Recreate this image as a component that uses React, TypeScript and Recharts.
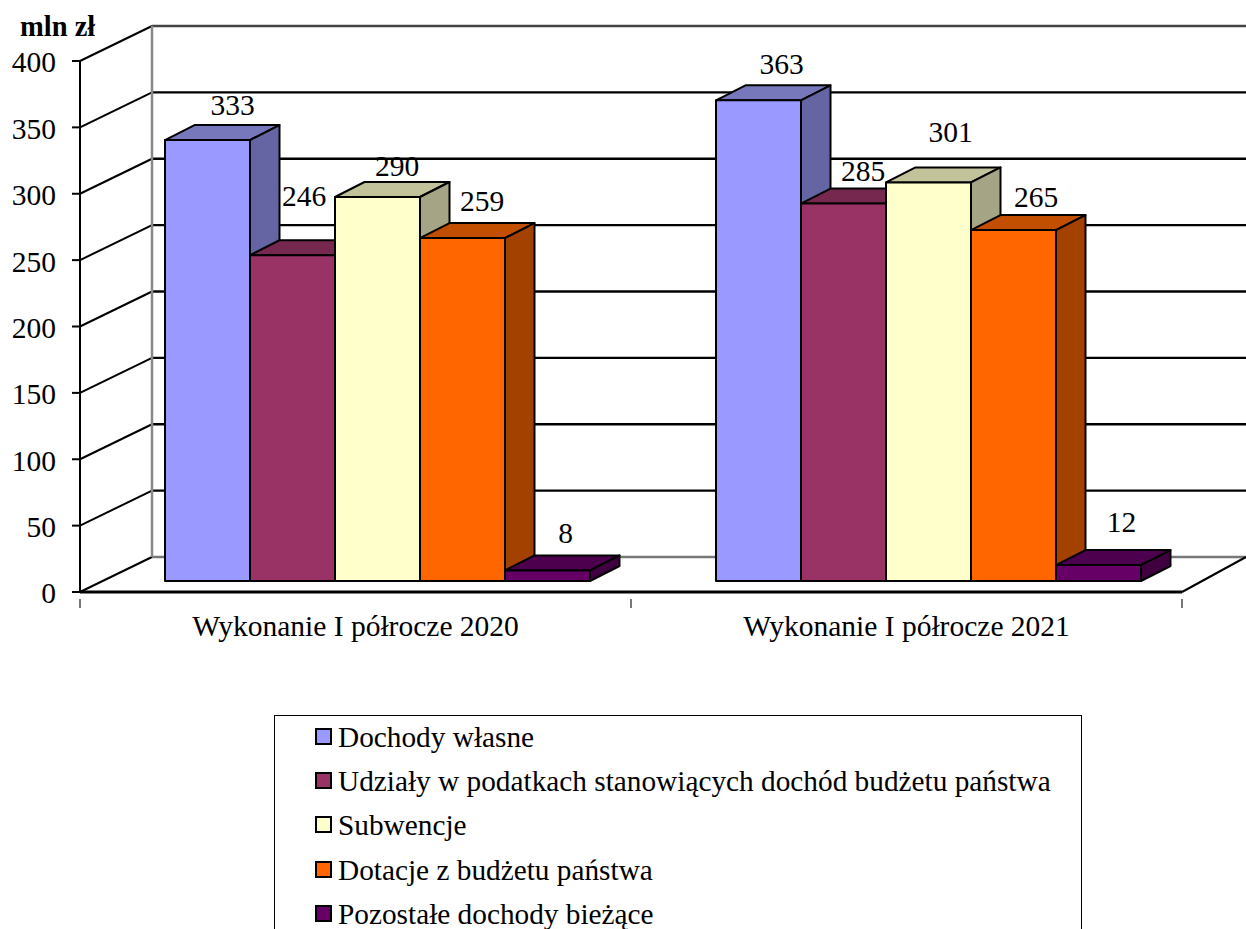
import React from 'react';
import { BarChart, Bar, XAxis, YAxis, CartesianGrid, Legend, LabelList } from 'recharts';

const categories = ['Wykonanie I półrocze 2020', 'Wykonanie I półrocze 2021'];
const dochodyWlasne = [333, 363];
const udzialy = [246, 285];
const subwencje = [290, 301];
const dotacje = [259, 265];
const pozostale = [8, 12];
const yTicks = [0, 50, 100, 150, 200, 250, 300, 350, 400];

const data = categories.map((name, i) => ({
  name,
  a: dochodyWlasne[i],
  b: udzialy[i],
  c: subwencje[i],
  d: dotacje[i],
  e: pozostale[i],
}));

const FONT = '"Liberation Serif", serif';
const FONT_SIZE = 29.5;
const DEPTH_X = 29.5;
const DEPTH_Y = 15;
const SHIFT_X = 22;
const SHIFT_Y = -11;
const WALL_X = 72;
const WALL_Y = 35;
const HALF_BAND = 275.5;

const series = [
  { key: 'a', name: 'Dochody własne', fill: '#9999FF', top: '#7777BB', side: '#6565A3', nudge: [[25, -35], [23, -36]] },
  { key: 'b', name: 'Udziały w podatkach stanowiących dochód budżetu państwa', fill: '#993366', top: '#77284F', side: '#662244', nudge: [[11.5, -59], [19.5, -33]] },
  { key: 'c', name: 'Subwencje', fill: '#FFFFCC', top: '#C2C29B', side: '#A5A585', nudge: [[19.5, -31], [22, -50]] },
  { key: 'd', name: 'Dotacje z budżetu państwa', fill: '#FF6600', top: '#C24E00', side: '#A34100', nudge: [[19.5, -37], [22.5, -33]] },
  { key: 'e', name: 'Pozostałe dochody bieżące', fill: '#660066', top: '#4D004D', side: '#400040', nudge: [[18, -37], [23, -43]] },
];

const Box3D = (p: any) => {
  const { x, y, width, height, fill, top, side } = p;
  const x0 = x + SHIFT_X;
  const x1 = x0 + width;
  const y0 = y + SHIFT_Y;
  const y1 = y0 + height;
  const line = { stroke: '#000', strokeWidth: 2, strokeLinejoin: 'round' as const };
  return (
    <g>
      <path d={`M${x0},${y0} L${x0 + DEPTH_X},${y0 - DEPTH_Y} L${x1 + DEPTH_X},${y0 - DEPTH_Y} L${x1},${y0} Z`} fill={top} {...line} />
      <path d={`M${x1},${y0} L${x1 + DEPTH_X},${y0 - DEPTH_Y} L${x1 + DEPTH_X},${y1 - DEPTH_Y} L${x1},${y1} Z`} fill={side} {...line} />
      <rect x={x0} y={y0} width={width} height={height} fill={fill} {...line} />
    </g>
  );
};

const gridRow = (rightEdge: number) => (p: any) => {
  const { x1, y1 } = p;
  const floor = y1 > 585;
  const topLine = y1 < 70;
  const backY = y1 - WALL_Y;
  const color = floor ? '#777' : topLine ? '#444' : '#000';
  return (
    <g key={`row-${y1}`}>
      <line x1={x1} y1={y1} x2={x1 + WALL_X} y2={backY} stroke="#000" strokeWidth={2} />
      <line x1={x1 + WALL_X} y1={backY} x2={rightEdge} y2={backY} stroke={color} strokeWidth={2.4} />
    </g>
  );
};

const CategoryTick = (p: any) => {
  const { x, y, payload } = p;
  return (
    <g>
      <line x1={x - HALF_BAND} y1={y - 1} x2={x - HALF_BAND} y2={y + 8} stroke="#777" strokeWidth={2} />
      <line x1={x + HALF_BAND} y1={y - 1} x2={x + HALF_BAND} y2={y + 8} stroke="#777" strokeWidth={2} />
      <text x={x} y={y + 26} textAnchor="middle" dominantBaseline="central" fontFamily={FONT} fontSize={FONT_SIZE} fill="#000">
        {payload.value}
      </text>
    </g>
  );
};

const LegendBox = ({ payload }: any) => (
  <div
    style={{
      position: 'relative',
      boxSizing: 'border-box',
      width: 808,
      height: 260,
      border: '1px solid #000',
      background: '#fff',
      fontFamily: FONT,
      fontSize: 29.3,
      color: '#000',
    }}
  >
    {(payload || []).map((item: any, i: number) => (
      <div key={item.value} style={{ position: 'absolute', left: 40, top: -1 + i * 44.2, height: 44, lineHeight: '44px', whiteSpace: 'nowrap' }}>
        <span
          style={{
            position: 'absolute',
            left: 0,
            top: 13,
            width: 13,
            height: 13,
            border: '2px solid #000',
            background: item.color,
          }}
        />
        <span style={{ position: 'absolute', left: 23, top: 0 }}>{item.value}</span>
      </div>
    ))}
  </div>
);

export default function App() {
  return (
    <div style={{ position: 'absolute', left: 0, top: 0, width: 1246, height: 929, overflow: 'hidden', background: '#fff' }}>
      <BarChart
        width={1246}
        height={929}
        data={data}
        margin={{ top: 61, right: 64, bottom: 297, left: 0 }}
        barSize={85}
        barGap={0}
      >
        <CartesianGrid vertical={false} horizontal={gridRow(1246)} syncWithTicks />
        <line x1={152} y1={26} x2={152} y2={557} stroke="#888" strokeWidth={2.5} />
        <YAxis
          width={80}
          domain={[0, 400]}
          allowDataOverflow
          ticks={yTicks}
          interval={0}
          tick={{ fontFamily: FONT, fontSize: FONT_SIZE, fill: '#000', dy: 1 }}
          tickLine={{ stroke: '#000', strokeWidth: 2 }}
          axisLine={{ stroke: '#000', strokeWidth: 2 }}
          tickSize={8}
          tickMargin={16}
        />
        <YAxis yAxisId="bars" hide width={0} domain={[0, 401]} allowDataOverflow />
        <XAxis
          dataKey="name"
          height={40}
          interval={0}
          tick={<CategoryTick />}
          tickLine={false}
          axisLine={{ stroke: '#000', strokeWidth: 3 }}
        />
        <line x1={1182} y1={592} x2={1246} y2={557} stroke="#000" strokeWidth={2} />
        {series.map((s) => (
          <Bar
            key={s.key}
            yAxisId="bars"
            dataKey={s.key}
            name={s.name}
            fill={s.fill}
            isAnimationActive={false}
            shape={(p: any) => <Box3D {...p} fill={s.fill} top={s.top} side={s.side} />}
          >
            <LabelList
              dataKey={s.key}
              content={(p: any) => {
                const n = s.nudge[p.index] || [0, 0];
                return (
                  <text
                    x={p.x + SHIFT_X + p.width / 2 + n[0]}
                    y={p.y + SHIFT_Y + n[1]}
                    textAnchor="middle"
                    dominantBaseline="central"
                    fontFamily={FONT}
                    fontSize={FONT_SIZE}
                    fill="#000"
                  >
                    {p.value}
                  </text>
                );
              }}
            />
          </Bar>
        ))}
        <text x={20} y={36} fontFamily={FONT} fontSize={28.5} fontWeight="bold" fill="#000">
          mln zł
        </text>
        <Legend
          layout="vertical"
          align="center"
          verticalAlign="middle"
          itemSorter={null}
          wrapperStyle={{ position: 'absolute', left: 274, top: 715, width: 808, height: 260 }}
          content={<LegendBox />}
        />
      </BarChart>
    </div>
  );
}
